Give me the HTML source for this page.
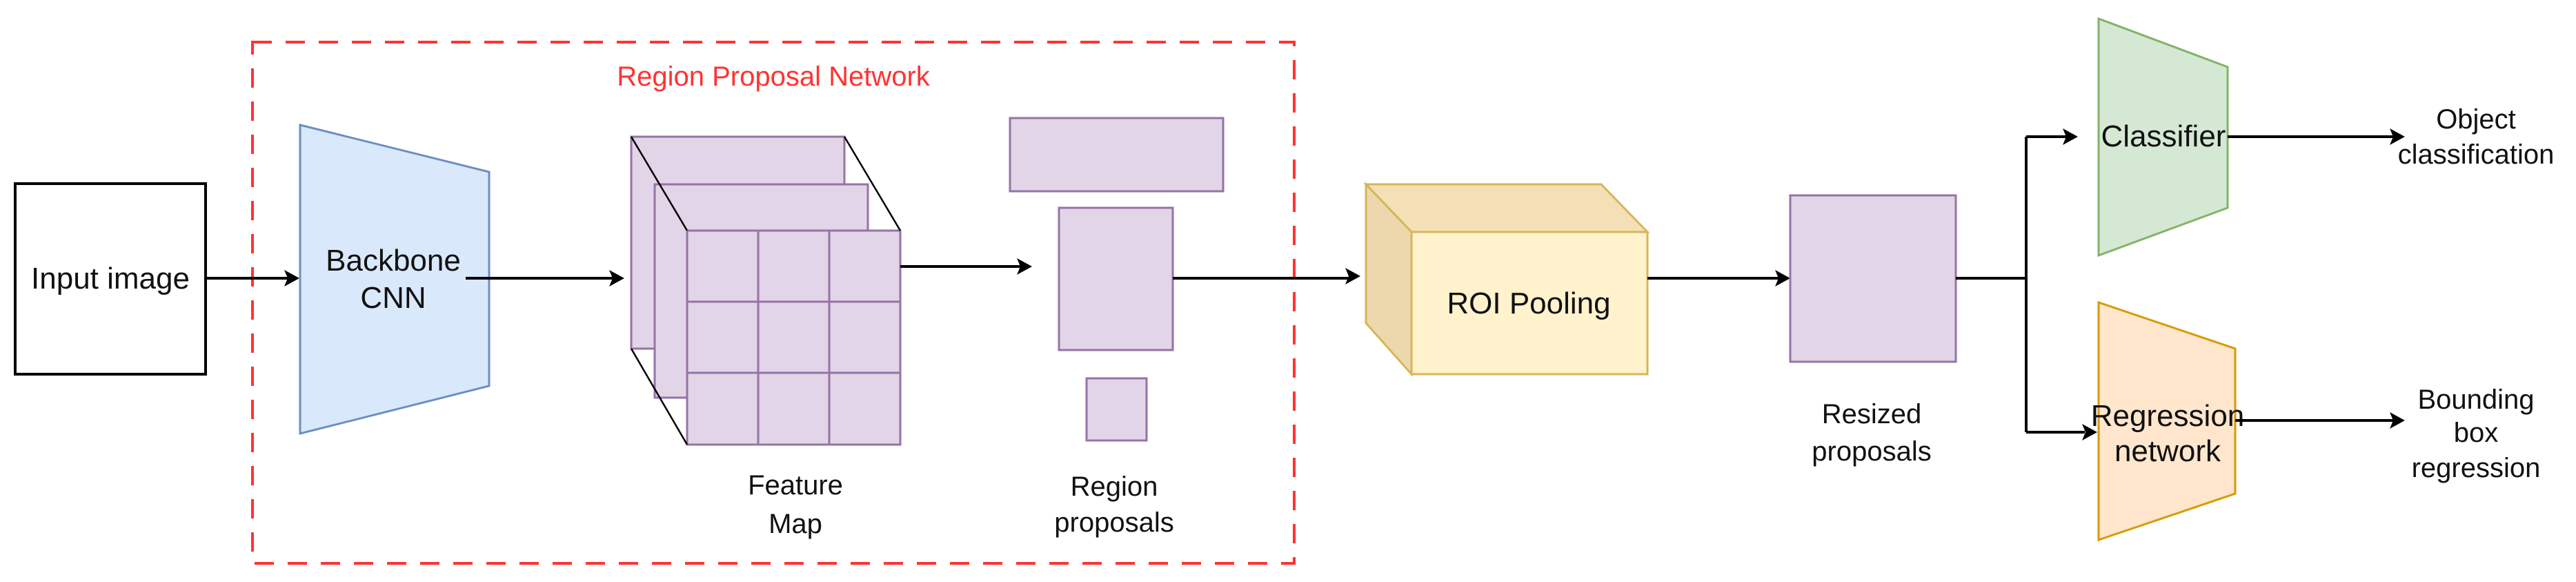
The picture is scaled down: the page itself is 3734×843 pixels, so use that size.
<!DOCTYPE html>
<html><head><meta charset="utf-8"><style>html,body{margin:0;padding:0;background:#fff}svg{display:block}</style></head>
<body>
<svg width="3734" height="843" viewBox="0 0 3734 843" xmlns="http://www.w3.org/2000/svg" font-family="Liberation Sans, Arial, sans-serif">
<style>.l{stroke:#000;stroke-width:4;fill:none}.p{fill:#e1d5e7;stroke:#9673a6;stroke-width:3}.t{font-size:44px;fill:#111;text-anchor:middle}.s{font-size:40px;fill:#111;text-anchor:middle}</style>
<rect x="366" y="61" width="1510" height="755" fill="none" stroke="#ff3333" stroke-width="4" stroke-dasharray="28,20"/>
<text x="1121" y="124" font-size="40" fill="#ff3333" text-anchor="middle">Region Proposal Network</text>
<rect x="22" y="266" width="276" height="276" fill="#fff" stroke="#000" stroke-width="4"/>
<text class="t" x="160" y="418">Input image</text>
<path d="M298,403 H422" class="l"/><path d="M412,391 L434,403 L412,415 L417,403Z" fill="#000"/>
<polygon points="435,181 709,249 709,559 435,628" fill="#dae8fc" stroke="#6c8ebf" stroke-width="3"/>
<text class="t" x="570" y="392">Backbone</text><text class="t" x="570" y="446">CNN</text>
<path d="M675,403 H890" class="l"/><path d="M883,391 L905,403 L883,415 L888,403Z" fill="#000"/>
<rect class="p" x="915" y="198" width="309" height="307"/>
<rect class="p" x="949" y="267" width="309" height="309"/>
<rect class="p" x="996" y="334" width="309" height="310"/>
<g stroke="#9673a6" stroke-width="3"><line x1="1099" y1="334" x2="1099" y2="644"/><line x1="1202" y1="334" x2="1202" y2="644"/><line x1="996" y1="437" x2="1305" y2="437"/><line x1="996" y1="540" x2="1305" y2="540"/></g>
<g stroke="#000" stroke-width="2.5"><line x1="915" y1="198" x2="996" y2="334"/><line x1="1224" y1="198" x2="1305" y2="334"/><line x1="915" y1="505" x2="996" y2="644"/></g>
<text class="s" x="1153" y="716">Feature</text><text class="s" x="1153" y="772">Map</text>
<path d="M1305,386 H1480" class="l"/><path d="M1474,374 L1496,386 L1474,398 L1479,386Z" fill="#000"/>
<rect class="p" x="1464" y="171" width="309" height="106"/>
<rect class="p" x="1535" y="301" width="165" height="206"/>
<rect class="p" x="1575" y="548" width="87" height="90"/>
<text class="s" x="1615" y="718">Region</text><text class="s" x="1615" y="770">proposals</text>
<path d="M1700,403 H1955" class="l"/><path d="M1950,388 L1972,400 L1950,412 L1955,400Z" fill="#000"/>
<polygon points="1980,267 2321,267 2388,336 2046,336" fill="#f3e0b6" stroke="#d6b656" stroke-width="3"/>
<polygon points="1980,267 2046,336 2046,542 1980,468" fill="#ecd8ac" stroke="#d6b656" stroke-width="3"/>
<rect x="2046" y="336" width="342" height="206" fill="#fff2cc" stroke="#d6b656" stroke-width="3"/>
<text class="t" x="2216" y="454">ROI Pooling</text>
<path d="M2388,403 H2580" class="l"/><path d="M2573,391 L2595,403 L2573,415 L2578,403Z" fill="#000"/>
<rect class="p" x="2595" y="283" width="240" height="241"/>
<text class="s" x="2713" y="613">Resized</text><text class="s" x="2713" y="667">proposals</text>
<path d="M2835,403 H2937 M2937,198 V626 M2937,198 H2995 M2937,626 H3022" class="l"/>
<path d="M2990,186 L3012,198 L2990,210 L2995,198Z" fill="#000"/>
<path d="M3018,614 L3040,626 L3018,638 L3023,626Z" fill="#000"/>
<polygon points="3042,27 3229,97 3229,301 3042,370" fill="#d5e8d4" stroke="#82b366" stroke-width="3"/>
<text class="t" x="3136" y="212">Classifier</text>
<path d="M3229,198 H3470" class="l"/><path d="M3464,186 L3486,198 L3464,210 L3469,198Z" fill="#000"/>
<text class="s" x="3589" y="186">Object</text><text class="s" x="3589" y="237">classification</text>
<polygon points="3042,438 3240,505 3240,715 3042,782" fill="#ffe6cc" stroke="#d79b00" stroke-width="3"/>
<text class="t" x="3142" y="617">Regression</text><text class="t" x="3142" y="668">network</text>
<path d="M3240,609 H3470" class="l"/><path d="M3464,597 L3486,609 L3464,621 L3469,609Z" fill="#000"/>
<text class="s" x="3589" y="592">Bounding</text><text class="s" x="3589" y="640">box</text><text class="s" x="3589" y="691">regression</text>
</svg>
</body></html>
